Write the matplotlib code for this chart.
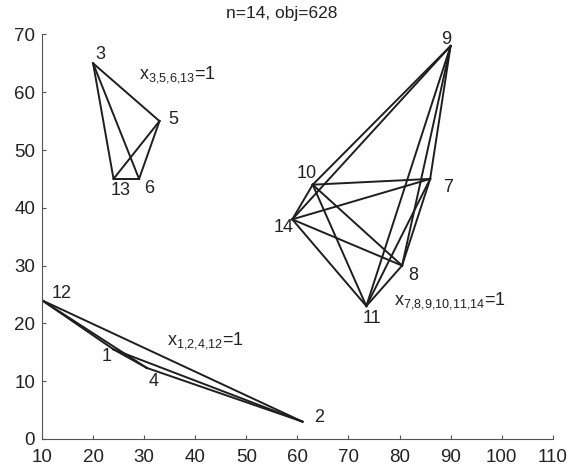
import itertools
import numpy as np
import matplotlib.pyplot as plt

plt.rcParams['font.family'] = ['Liberation Sans', 'DejaVu Sans']
plt.rcParams['mathtext.fontset'] = 'custom'
plt.rcParams['mathtext.rm'] = 'Liberation Sans'
plt.rcParams['mathtext.it'] = 'Liberation Sans'

# node coordinates
node_ids = [1, 2, 3, 4, 5, 6, 7, 8, 9, 10, 11, 12, 13, 14]
node_x = [24, 61, 20, 30.5, 33, 29, 86, 80.5, 90, 63, 73.5, 10, 24, 59]
node_y = [15.5, 3, 65, 12.3, 55, 45, 45, 30, 68, 44, 23, 24, 45, 38]

# groups (each one drawn as a complete graph)
groups = [[1, 2, 4, 12], [3, 5, 6, 13], [7, 8, 9, 10, 11, 14]]
group_labels = [r'x$_{\mathregular{1{,}2{,}4{,}12}}$=1',
                r'x$_{\mathregular{3{,}5{,}6{,}13}}$=1',
                r'x$_{\mathregular{7{,}8{,}9{,}10{,}11{,}14}}$=1']
group_label_pos = [(34.5, 17), (29, 63), (79, 24)]

# label offsets in points (dx, dy), text centred
lab_off = {1: (-5, -5), 2: (12, 3), 3: (5, 6), 4: (5, -10), 5: (10, 1),
           6: (7, -7), 7: (13, -6), 8: (8, -7), 9: (-3, 5), 10: (-4, 8),
           11: (4, -9), 12: (14, 5), 13: (5, -8), 14: (-6, -6)}

pos = {n: (x, y) for n, x, y in zip(node_ids, node_x, node_y)}

fig = plt.figure(figsize=(5.71, 4.69), dpi=100)
ax = fig.add_axes([0.0736, 0.064, 0.8944, 0.8626])

for g in groups:
    for a, b in itertools.combinations(g, 2):
        ax.plot([pos[a][0], pos[b][0]], [pos[a][1], pos[b][1]], color='#1e1e1e', lw=1.4)

for n in node_ids:
    dx, dy = lab_off[n]
    ax.annotate(str(n), pos[n], xytext=(dx, dy), textcoords='offset points',
                fontsize=13, ha='center', va='center', color='#222222')

for txt, (tx, ty) in zip(group_labels, group_label_pos):
    ax.text(tx, ty, txt, fontsize=13, ha='left', va='center', color='#222222')

ax.set_xlim(10, 110)
ax.set_ylim(0, 70)
ax.set_xticks(np.arange(10, 111, 10))
ax.set_yticks(np.arange(0, 71, 10))
ax.tick_params(direction='in', labelsize=13.5, length=3, color='#555555',
               labelcolor='#222222')
ax.tick_params(axis='x', pad=7)
ax.tick_params(axis='y', pad=5)
for s in ['left', 'bottom']:
    ax.spines[s].set_color('#555555')
ax.spines['top'].set_visible(False)
ax.spines['right'].set_visible(False)
ax.set_title('n=14, obj=628', fontsize=12.5, x=0.47, pad=12, color='#222222')

fig.savefig('out.png', dpi=100)
